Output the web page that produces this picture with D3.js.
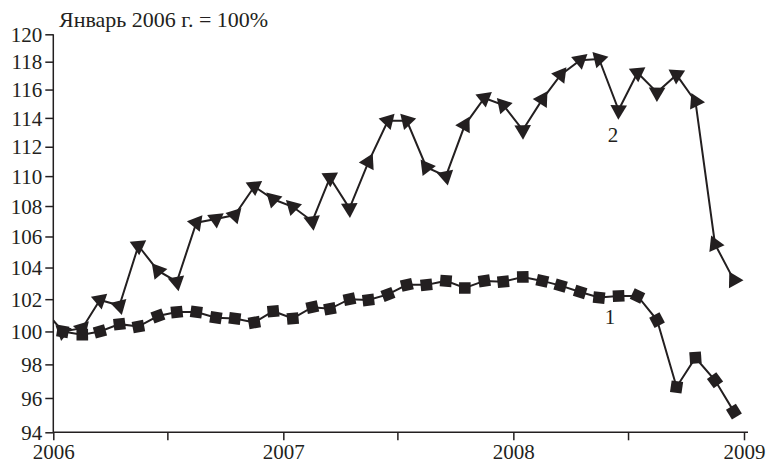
<!DOCTYPE html>
<html>
<head>
<meta charset="utf-8">
<script src="https://cdn.jsdelivr.net/npm/d3@7"></script>
<style>
  html, body { margin: 0; padding: 0; background: #fff; }
  svg { display: block; }
</style>
</head>
<body>
<svg id="chart" width="771" height="463"></svg>
<script>
// ---- data (monthly index, January 2006 = 100%) ----
const titleText = "Январь 2006 г. = 100%";
const yTicks = [94, 96, 98, 100, 102, 104, 106, 108, 110, 112, 114, 116, 118, 120];
const xYearLabels = ["2006", "2007", "2008", "2009"];

// series 1 (squares): Jan 2006 .. Dec 2008
const series1Start = [2006, 0];
const series1 = [
  100.0, 99.8, 100.0, 100.45, 100.3, 100.95, 101.2, 101.2, 100.85, 100.8, 100.55, 101.25,
  100.8, 101.5, 101.4, 102.0, 101.95, 102.3, 102.9, 102.9, 103.15, 102.7, 103.15, 103.1,
  103.4, 103.15, 102.85, 102.45, 102.1, 102.2, 102.2, 100.7, 96.65, 98.4, 97.05, 95.2
];
// series 2 (triangles): Dec 2005 .. Dec 2008
const series2Start = [2005, 11];
const series2 = [
  101.4,
  100.0, 100.2, 101.95, 101.6, 105.4, 103.8, 103.1, 106.9, 107.15, 107.4, 109.3, 108.45,
  107.95, 107.0, 109.9, 107.85, 110.95, 113.8, 113.8, 110.6, 110.0, 113.5, 115.4, 114.9,
  113.15, 115.3, 117.05, 118.1, 118.2, 114.55, 117.2, 115.8, 117.05, 115.15, 105.5, 103.2
];
const seriesLabels = ["1", "2"];

// ---- layout ----
const ink = "#231f20";
const font = "'Liberation Serif', 'Times New Roman', serif";
const svg = d3.select("#chart");
const mLeft = 53.3, mRight = 744, mTop = 34.3, mBottom = 432.3;

const x = d3.scaleTime()
  .domain([new Date(2006, 0, 1), new Date(2009, 0, 1)])
  .range([mLeft, mRight]);
const y = d3.scaleLog().domain([94, 120]).range([mBottom, mTop]);

function toPoints(start, vals) {
  return vals.map((v, i) => ({ date: new Date(start[0], start[1] + i, 16), v }));
}
const p1 = toPoints(series1Start, series1);
const p2 = toPoints(series2Start, series2);

// title
svg.append("text")
  .attr("x", 59).attr("y", 26.5)
  .attr("font-family", font).attr("font-size", 22)
  .attr("fill", ink)
  .text(titleText);

// y axis
const yAxis = d3.axisLeft(y).tickValues(yTicks).tickFormat(d3.format("d")).tickSize(8).tickPadding(3);
const gy = svg.append("g").attr("transform", `translate(${mLeft},0)`).call(yAxis);
gy.select(".domain").attr("d", `M0,${mTop}V${mBottom}`);

// x axis
const xTickDates = [];
for (let yr = 2006; yr <= 2009; yr++) {
  xTickDates.push(new Date(yr, 0, 1));
  if (yr < 2009) xTickDates.push(new Date(yr, 6, 1));
}
const xAxis = d3.axisBottom(x).tickValues(xTickDates)
  .tickFormat(d => d.getMonth() === 0 ? xYearLabels[d.getFullYear() - 2006] : "")
  .tickSize(8).tickPadding(5);
const gx = svg.append("g").attr("transform", `translate(0,${mBottom})`).call(xAxis);
gx.select(".domain").attr("d", `M${mLeft},0H${mRight + 4}`);

[gx, gy].forEach(g => {
  g.selectAll("path,line").attr("stroke", ink).attr("stroke-width", 1.5);
  g.selectAll("text").attr("font-family", font).attr("font-size", 21).attr("fill", ink);
});
gy.selectAll("text").attr("dy", "0.34em");
gx.selectAll("text").attr("dy", "0.67em");

// clip for lines
svg.append("clipPath").attr("id", "plotclip")
  .append("rect").attr("x", mLeft).attr("y", 0).attr("width", 771 - mLeft).attr("height", mBottom);

const line = d3.line().x(d => x(d.date)).y(d => y(d.v));

function drawSeries(pts, shape, turn) {
  svg.append("path").datum(pts)
    .attr("clip-path", "url(#plotclip)")
    .attr("d", line)
    .attr("fill", "none").attr("stroke", ink).attr("stroke-width", 2);
  const xy = pts.map(d => [x(d.date), y(d.v)]);
  const g = svg.append("g");
  pts.forEach((d, i) => {
    const [px, py] = xy[i];
    if (px < mLeft) return;
    let dx = 0, dy = 0;
    if (i > 0) { const a = [px - xy[i-1][0], py - xy[i-1][1]]; const l = Math.hypot(a[0], a[1]); dx += a[0]/l; dy += a[1]/l; }
    if (i < xy.length - 1) { const b = [xy[i+1][0] - px, xy[i+1][1] - py]; const l = Math.hypot(b[0], b[1]); dx += b[0]/l; dy += b[1]/l; }
    const ang = Math.atan2(dy, dx) * 180 / Math.PI * turn;
    g.append("path")
      .attr("d", shape)
      .attr("transform", `translate(${px},${py}) rotate(${ang})`)
      .attr("fill", ink);
  });
}
const squarePath = "M-5.8,-5.8H5.8V5.8H-5.8Z";
const trianglePath = "M-8.3,-4.8L8.3,-4.8L0,9.6Z";
drawSeries(p1, squarePath, 1);
drawSeries(p2, trianglePath, 0.5);

// series labels
svg.append("text").attr("x", 610).attr("y", 324).attr("text-anchor", "middle")
  .attr("font-family", font).attr("font-size", 21).attr("fill", ink).text(seriesLabels[0]);
svg.append("text").attr("x", 613).attr("y", 142).attr("text-anchor", "middle")
  .attr("font-family", font).attr("font-size", 21).attr("fill", ink).text(seriesLabels[1]);
</script>
</body>
</html>
